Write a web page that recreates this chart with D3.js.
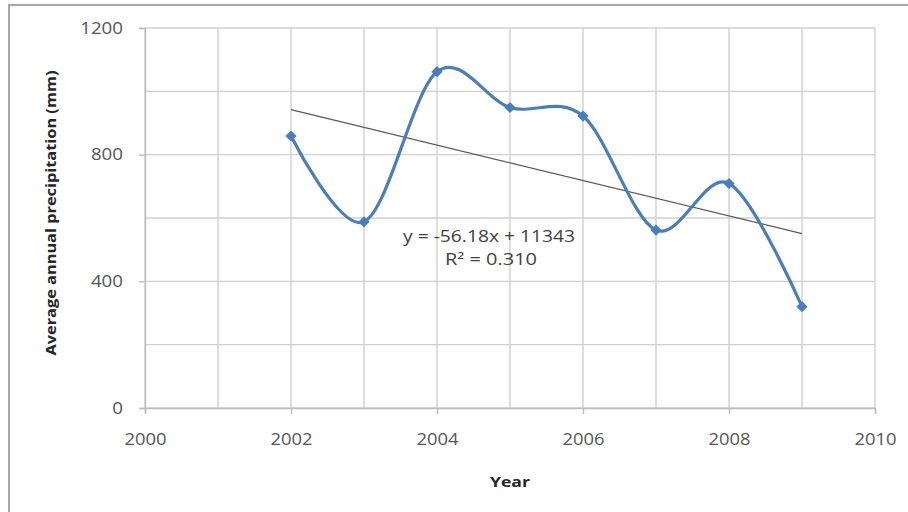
<!DOCTYPE html>
<html><head><meta charset="utf-8">
<script src="https://cdn.jsdelivr.net/npm/d3@7"></script>
<style>body{margin:0;background:#fff}svg{display:block}</style>
</head><body>
<script>
const years = [2002, 2003, 2004, 2005, 2006, 2007, 2008, 2009];
const precipitation = [859, 588, 1062, 949, 922, 562, 709, 320];
const xTickLabels = [2000, 2002, 2004, 2006, 2008, 2010];
const yTickLabels = [0, 400, 800, 1200];
const xGrid = [2000,2001,2002,2003,2004,2005,2006,2007,2008,2009,2010];
const yGrid = [0,200,400,600,800,1000,1200];
const trendText = ["y = -56.18x + 11343", "R² = 0.310"];

const W = 908, H = 512;
const svg = d3.select("body").append("svg").attr("width", W).attr("height", H);
svg.append("rect").attr("width", W).attr("height", H).attr("fill", "#fff");
// outer chart frame
svg.append("rect").attr("x", 9).attr("y", 5).attr("width", 1000).attr("height", 1000)
  .attr("fill", "none").attr("stroke", "#a8a8a8").attr("stroke-width", 2);

const x = d3.scaleLinear().domain([2000, 2010]).range([145, 875]);
const y = d3.scaleLinear().domain([0, 1200]).range([408, 28]);

// gridlines
svg.append("g").selectAll("line").data(xGrid).join("line")
  .attr("x1", d => x(d)).attr("x2", d => x(d)).attr("y1", y(0)).attr("y2", y(1200))
  .attr("stroke", "#d0d0d0").attr("stroke-width", 1.4);
svg.append("g").selectAll("line").data(yGrid).join("line")
  .attr("y1", d => y(d)).attr("y2", d => y(d)).attr("x1", x(2000)).attr("x2", x(2010))
  .attr("stroke", "#d0d0d0").attr("stroke-width", 1.4);

const font = "'Open Sans', 'Liberation Sans', sans-serif";

// x axis
const xAxis = svg.append("g").attr("transform", `translate(0,${y(0)})`)
  .call(d3.axisBottom(x).tickValues(xTickLabels).tickFormat(d3.format("d")).tickSize(6).tickPadding(20));
xAxis.select(".domain").attr("stroke", "#bdbdbd").attr("stroke-width", 1.4);
xAxis.selectAll(".tick line").attr("stroke", "#bdbdbd").attr("stroke-width", 1.4);
xAxis.selectAll(".tick text").attr("font-family", font).attr("font-size", 16).attr("fill", "#555")
  .attr("textLength", 42).attr("lengthAdjust", "spacingAndGlyphs");

// y axis
const yAxis = svg.append("g").attr("transform", `translate(${x(2000)},0)`)
  .call(d3.axisLeft(y).tickValues(yTickLabels).tickFormat(d3.format("d")).tickSize(6).tickPadding(16));
yAxis.select(".domain").attr("stroke", "#bdbdbd").attr("stroke-width", 1.4);
yAxis.selectAll(".tick line").attr("stroke", "#bdbdbd").attr("stroke-width", 1.4);
yAxis.selectAll(".tick text").attr("font-family", font).attr("font-size", 16).attr("fill", "#555")
  .each(function(d){ const n = String(d).length; d3.select(this).attr("textLength", n*10.7).attr("lengthAdjust","spacingAndGlyphs"); });

// trend line (least squares from the data)
const n = years.length;
const mx = d3.mean(years), my = d3.mean(precipitation);
const slope = d3.sum(years.map((v,i)=>(v-mx)*(precipitation[i]-my))) / d3.sum(years.map(v=>(v-mx)**2));
const icpt = my - slope*mx;
const x0 = years[0], x1 = years[n-1];
svg.append("line").attr("x1", x(x0)).attr("y1", y(icpt + slope*x0))
  .attr("x2", x(x1)).attr("y2", y(icpt + slope*x1))
  .attr("stroke", "#5a5a5a").attr("stroke-width", 1.3);

// smoothed series
const data = years.map((v,i)=>({x:v, y:precipitation[i]}));
svg.append("path").datum(data)
  .attr("d", d3.line().x(d=>x(d.x)).y(d=>y(d.y)).curve(d3.curveCardinal.tension(0)))
  .attr("fill", "none").attr("stroke", "#4a7ebb").attr("stroke-width", 3.2);
svg.append("g").selectAll("path").data(data).join("path")
  .attr("d", d3.symbol().type(d3.symbolDiamond2).size(80))
  .attr("transform", d => `translate(${x(d.x)},${y(d.y)})`)
  .attr("fill", "#4a7ebb");

// trend label
svg.append("text").attr("x", 489).attr("y", 242).attr("text-anchor", "middle")
  .attr("font-family", font).attr("font-size", 15.5).attr("fill", "#404040")
  .attr("textLength", 172).attr("lengthAdjust", "spacingAndGlyphs").text(trendText[0]);
svg.append("text").attr("x", 491).attr("y", 265).attr("text-anchor", "middle")
  .attr("font-family", font).attr("font-size", 15.5).attr("fill", "#404040")
  .attr("textLength", 92).attr("lengthAdjust", "spacingAndGlyphs").text(trendText[1]);

// axis titles
svg.append("text").attr("x", 510).attr("y", 487).attr("text-anchor", "middle")
  .attr("font-family", font).attr("font-weight", "bold").attr("font-size", 15).attr("fill", "#262626")
  .attr("textLength", 40).attr("lengthAdjust", "spacingAndGlyphs").text("Year");
svg.append("text").attr("transform", "translate(56,213) rotate(-90)").attr("text-anchor", "middle")
  .attr("font-family", font).attr("font-weight", "bold").attr("font-size", 14).attr("fill", "#262626")
  .attr("textLength", 285).attr("lengthAdjust", "spacingAndGlyphs").text("Average annual precipitation (mm)");
</script>
</body></html>
